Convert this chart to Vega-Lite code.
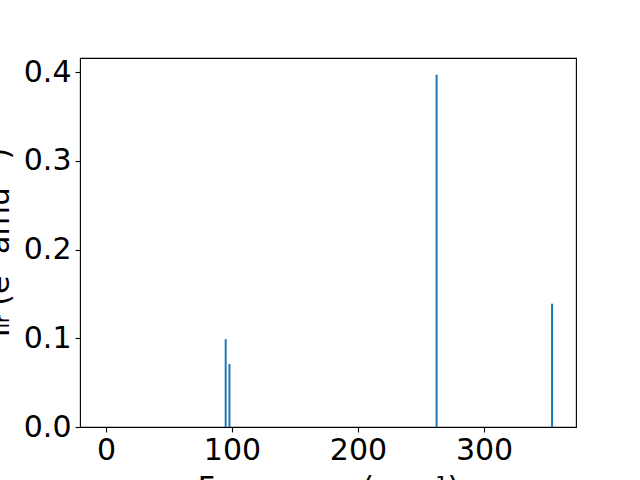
{
  "$schema": "https://vega.github.io/schema/vega-lite/v6.json",
  "autosize": {"type": "none"},
  "width": 496,
  "height": 369,
  "padding": {"left": 80, "top": 58, "right": 64, "bottom": 53},
  "background": "white",
  "config": {
    "view": {"stroke": "#000", "strokeWidth": 1.1},
    "font": "DejaVu Sans",
    "axis": {
      "grid": false,
      "domain": false,
      "tickColor": "#000",
      "tickSize": 5,
      "tickWidth": 1.1,
      "labelFont": "DejaVu Sans",
      "labelFontSize": 30,
      "labelColor": "#000",
      "titleFont": "DejaVu Sans",
      "titleFontSize": 30,
      "titleFontWeight": "normal",
      "titleColor": "#000"
    }
  },
  "data": {
    "values": [
      {"freq": 95.0, "intensity": 0.099},
      {"freq": 98.0, "intensity": 0.071},
      {"freq": 262.4, "intensity": 0.397},
      {"freq": 354.0, "intensity": 0.139}
    ]
  },
  "mark": {"type": "bar", "width": 2, "color": "#1f77b4", "clip": true},
  "encoding": {
    "x": {
      "field": "freq",
      "type": "quantitative",
      "scale": {"domain": [-20.6, 373], "nice": false, "zero": false, "padding": 0},
      "axis": {
        "title": "Frequency (cm⁻¹)",
        "values": [0, 100, 200, 300],
        "labelPadding": 3,
        "labelFlush": false,
        "titleBaseline": "alphabetic",
        "titleAnchor": "middle",
        "titleY": 70
      }
    },
    "y": {
      "field": "intensity",
      "type": "quantitative",
      "scale": {"domain": [0, 0.416], "nice": false, "padding": 0},
      "axis": {
        "title": "Iᵢᵣ (e² amu⁻¹)",
        "values": [0, 0.1, 0.2, 0.3, 0.4],
        "format": ".1f",
        "labelPadding": 4,
        "labelFlush": false,
        "titleBaseline": "alphabetic",
        "titleAngle": 270,
        "titleX": -72,
        "titleY": 184
      }
    }
  }
}
